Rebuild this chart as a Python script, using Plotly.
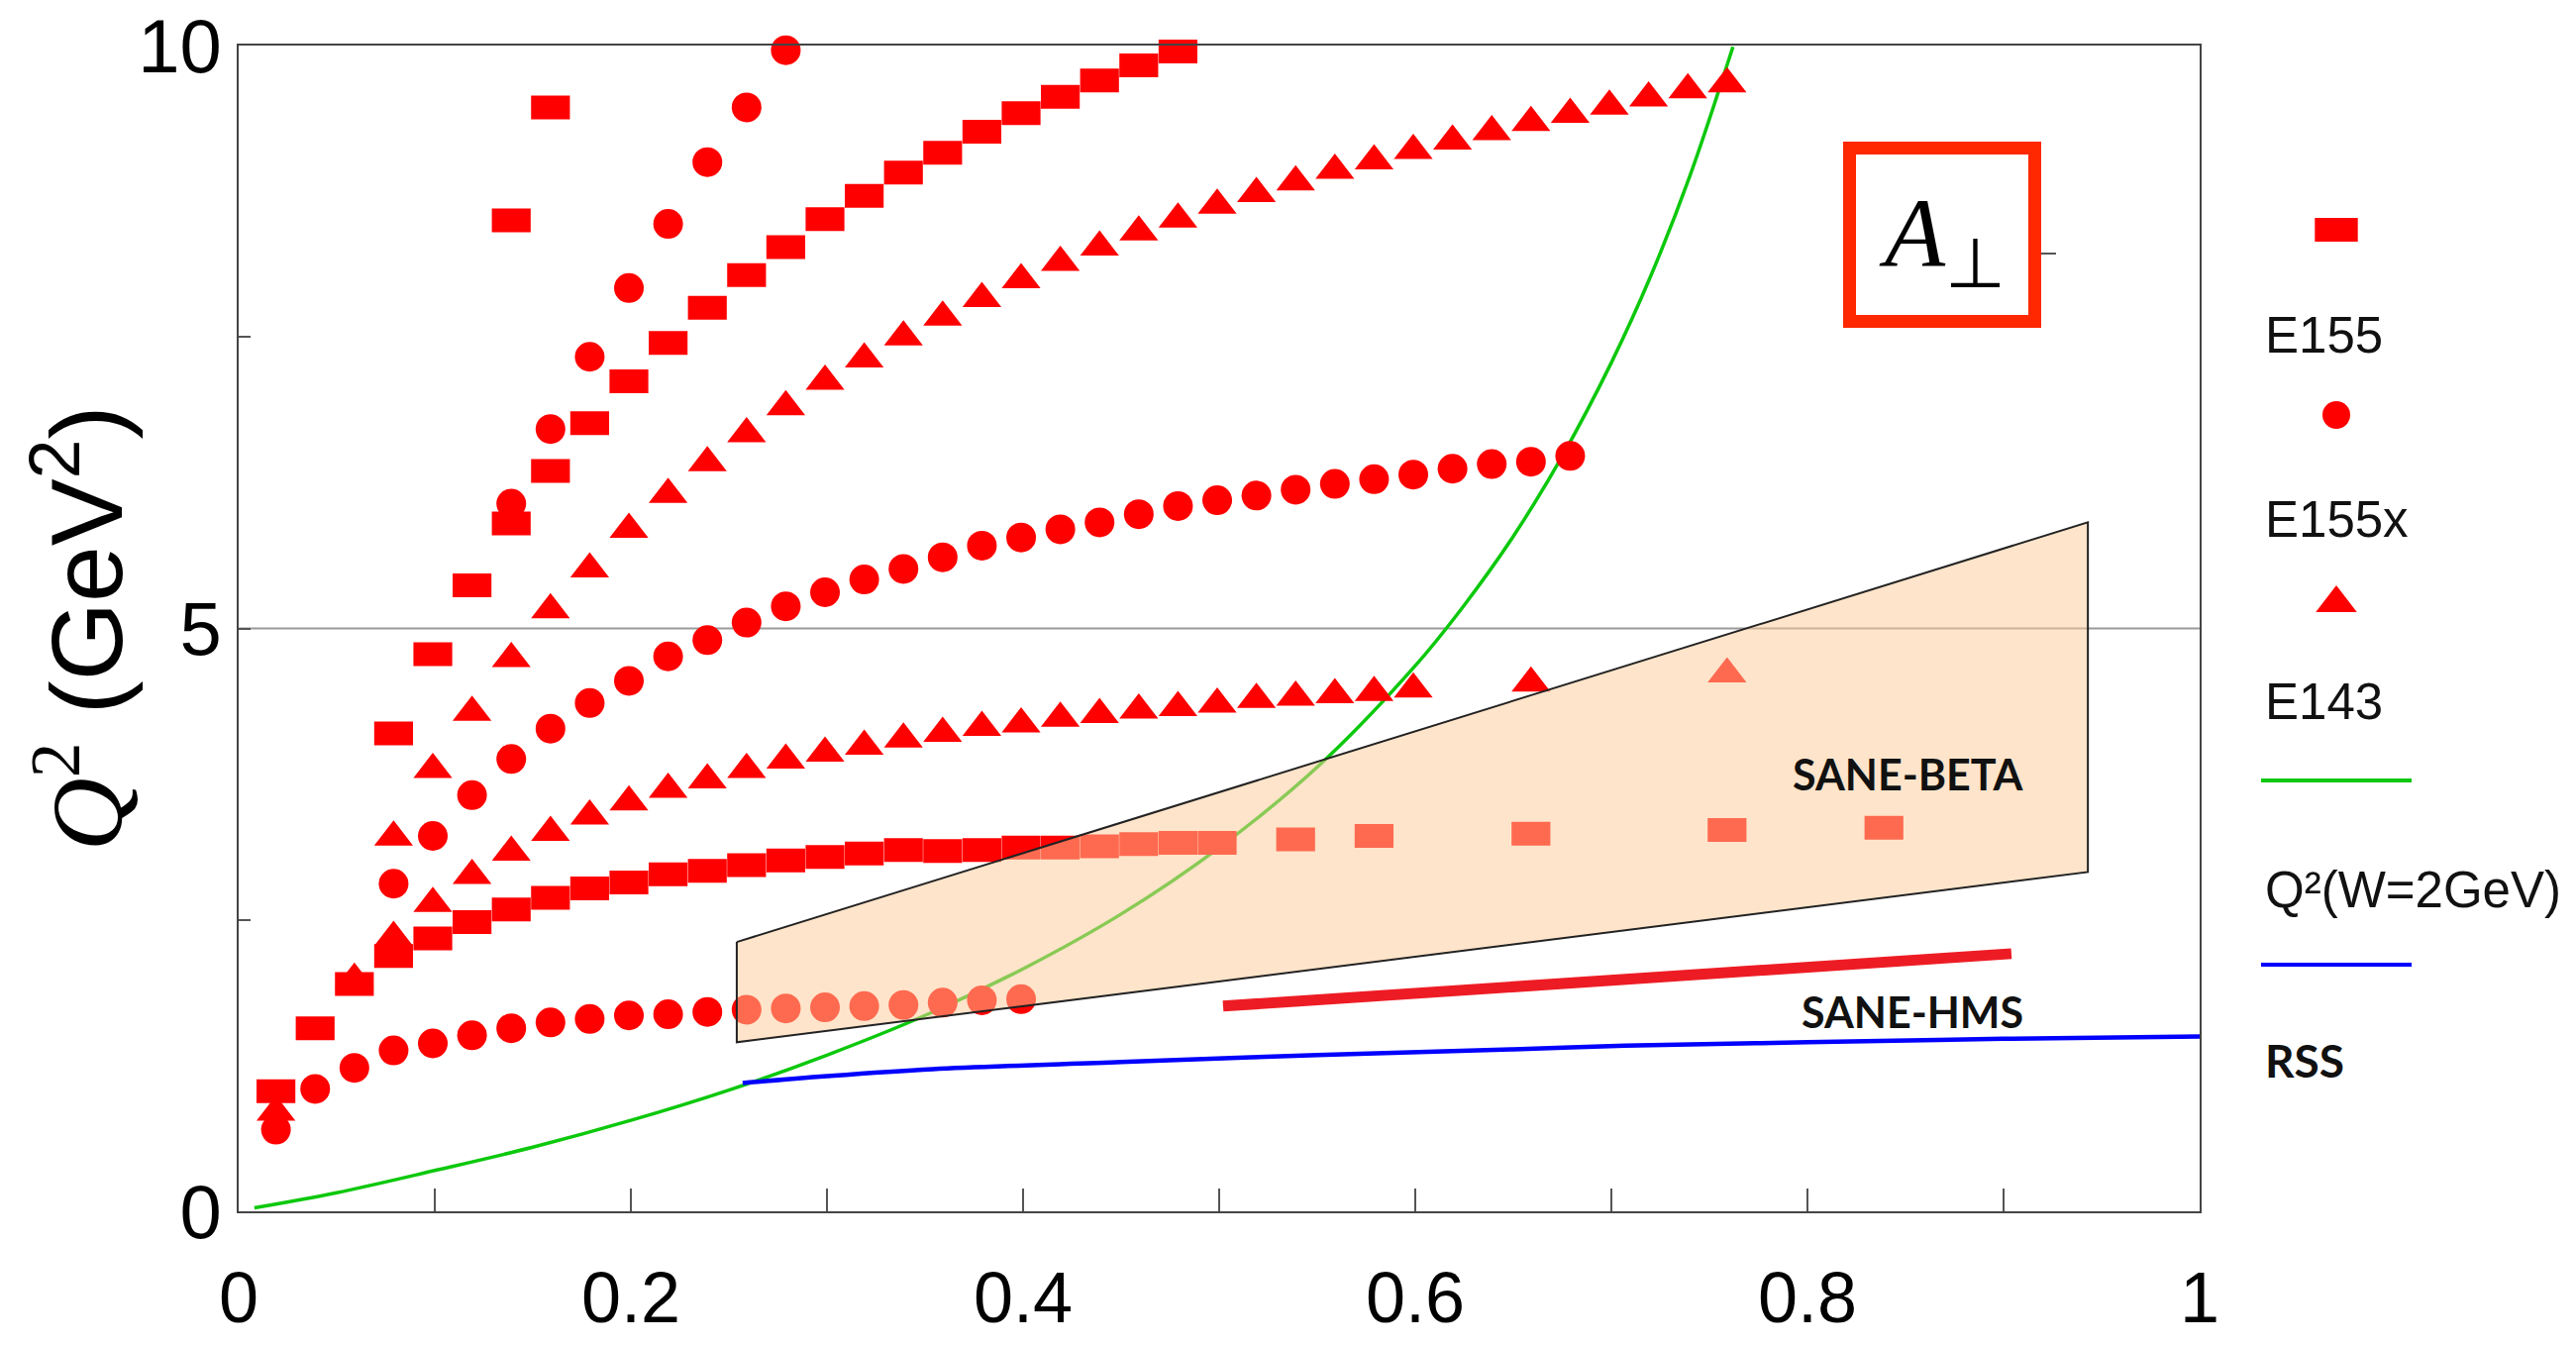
import plotly.graph_objects as go

# ---------------- data ----------------
# E155 (squares)
e155_a_x = [0.079, 0.099, 0.119, 0.139, 0.159, 0.179, 0.199, 0.219, 0.239, 0.259, 0.279,
            0.299, 0.319, 0.339, 0.359, 0.379, 0.399, 0.419, 0.439, 0.459, 0.479]
e155_a_q2 = [4.10, 4.78, 5.37, 5.90, 6.35, 6.76, 7.12, 7.45, 7.75, 8.03, 8.27,
             8.51, 8.71, 8.91, 9.08, 9.26, 9.42, 9.56, 9.70, 9.83, 9.95]
e155_b_x = [0.139, 0.159]
e155_b_q2 = [8.50, 9.47]
e155_c_x = [0.019, 0.039, 0.059, 0.079, 0.099, 0.119, 0.139, 0.159, 0.179, 0.199,
            0.219, 0.239, 0.259, 0.279, 0.299, 0.319, 0.339, 0.359, 0.379, 0.399,
            0.419, 0.439, 0.459, 0.479, 0.499, 0.539, 0.579, 0.659, 0.759, 0.839]
e155_c_q2 = [1.03, 1.57, 1.95, 2.19, 2.34, 2.48, 2.59, 2.69, 2.77, 2.82,
             2.89, 2.92, 2.97, 3.01, 3.04, 3.07, 3.10, 3.09, 3.10, 3.12,
             3.12, 3.13, 3.15, 3.16, 3.16, 3.19, 3.22, 3.24, 3.27, 3.29]

# E155x (circles)
e155x_a_x = [0.139, 0.159, 0.179, 0.199, 0.219, 0.239, 0.259, 0.279]
e155x_a_q2 = [6.07, 6.71, 7.33, 7.92, 8.47, 9.00, 9.47, 9.96]
e155x_b_x = [0.079, 0.099, 0.119, 0.139, 0.159, 0.179, 0.199, 0.219, 0.239, 0.259,
             0.279, 0.299, 0.319, 0.339, 0.359, 0.379, 0.399, 0.419, 0.439, 0.459,
             0.479, 0.499, 0.519, 0.539, 0.559, 0.579, 0.599, 0.619, 0.639, 0.659, 0.679]
e155x_b_q2 = [2.81, 3.22, 3.57, 3.88, 4.14, 4.36, 4.55, 4.76, 4.90, 5.05,
              5.19, 5.31, 5.42, 5.51, 5.61, 5.71, 5.78, 5.85, 5.91, 5.98,
              6.05, 6.10, 6.14, 6.19, 6.24, 6.28, 6.32, 6.37, 6.41, 6.43, 6.48]
e155x_c_x = [0.019, 0.039, 0.059, 0.079, 0.099, 0.119, 0.139, 0.159, 0.179, 0.199,
             0.219, 0.239, 0.259, 0.279, 0.299, 0.319, 0.339, 0.359, 0.379, 0.399]
e155x_c_q2 = [0.70, 1.05, 1.23, 1.38, 1.44, 1.51, 1.57, 1.62, 1.65, 1.68,
              1.69, 1.71, 1.73, 1.74, 1.75, 1.76, 1.77, 1.79, 1.81, 1.82]

# E143 (triangles)
e143_a_x = [0.079, 0.099, 0.119, 0.139, 0.159, 0.179, 0.199, 0.219, 0.239, 0.259,
            0.279, 0.299, 0.319, 0.339, 0.359, 0.379, 0.399, 0.419, 0.439, 0.459,
            0.479, 0.499, 0.519, 0.539, 0.559, 0.579, 0.599, 0.619, 0.639, 0.659,
            0.679, 0.699, 0.719, 0.739, 0.759]
e143_a_q2 = [3.21, 3.79, 4.28, 4.74, 5.16, 5.51, 5.85, 6.15, 6.42, 6.67,
             6.90, 7.12, 7.31, 7.50, 7.67, 7.83, 7.99, 8.14, 8.27, 8.40,
             8.51, 8.63, 8.73, 8.83, 8.93, 9.01, 9.10, 9.18, 9.26, 9.34,
             9.41, 9.48, 9.55, 9.62, 9.67]
e143_b_x = [0.019, 0.059, 0.079, 0.099, 0.119, 0.139, 0.159, 0.179, 0.199, 0.219,
            0.239, 0.259, 0.279, 0.299, 0.319, 0.339, 0.359, 0.379, 0.399, 0.419,
            0.439, 0.459, 0.479, 0.499, 0.519, 0.539, 0.559, 0.579, 0.599, 0.659, 0.759]
e143_b_q2 = [0.85, 1.99, 2.35, 2.64, 2.88, 3.08, 3.25, 3.39, 3.51, 3.62,
             3.70, 3.79, 3.87, 3.93, 3.99, 4.05, 4.10, 4.15, 4.18, 4.23,
             4.26, 4.30, 4.32, 4.35, 4.39, 4.41, 4.43, 4.45, 4.48, 4.53, 4.61]

# Q^2 at W = 2 GeV (green curve)
w2_x = [0.008, 0.05, 0.10, 0.15, 0.20, 0.25, 0.30, 0.35, 0.40, 0.45, 0.50,
        0.55, 0.60, 0.625, 0.65, 0.675, 0.70, 0.72, 0.74, 0.762]
w2_q2 = [0.03, 0.16, 0.35, 0.55, 0.78, 1.04, 1.34, 1.68, 2.08, 2.55, 3.12,
         3.81, 4.68, 5.20, 5.79, 6.48, 7.28, 8.02, 8.88, 9.99]

# RSS (blue line)
rss_x = [0.257, 0.30, 0.354, 0.45, 0.55, 0.65, 0.707, 0.80, 0.90, 1.0]
rss_q2 = [1.10, 1.16, 1.22, 1.28, 1.34, 1.39, 1.42, 1.45, 1.48, 1.50]

# SANE-HMS (thick red line)
hms_x = [0.502, 0.904]
hms_q2 = [1.76, 2.21]

# SANE-BETA (shaded region)
beta_x = [0.254, 0.943, 0.943, 0.254, 0.254]
beta_q2 = [2.31, 5.91, 2.91, 1.45, 2.31]

# axis ticks
x_tickvals = [0, 0.2, 0.4, 0.6, 0.8, 1.0]
x_ticktext = ["0", "0.2", "0.4", "0.6", "0.8", "1"]
y_tickvals = [0, 5, 10]
y_ticktext = ["0", "5", "10"]

legend_labels = ["E155", "E155x", "E143", "Q²(W=2GeV)", "RSS"]

# ---------------- styles ----------------
W, H = 2601, 1359
PL, PR, PT, PB = 241, 2221, 46, 1223   # plot area in pixels
RED = "#FF0000"

SQ = dict(symbol="line-ew", size=28, color=RED, line=dict(color=RED, width=24))
CI = dict(symbol="circle", size=30, color=RED, line=dict(width=0))
TR = dict(symbol="triangle-up", size=34, color=RED, line=dict(width=0))

fig = go.Figure()

# green W=2 GeV curve and blue RSS line (under the shaded region)
fig.add_trace(go.Scatter(x=w2_x, y=w2_q2, mode="lines", line=dict(color="#0CC80C", width=3.5, shape="spline"),
                         hoverinfo="skip"))
fig.add_trace(go.Scatter(x=rss_x, y=rss_q2, mode="lines", line=dict(color="#0000FF", width=4.5, shape="spline"),
                         hoverinfo="skip"))

for xs, ys in [(e155x_a_x, e155x_a_q2), (e155x_b_x, e155x_b_q2), (e155x_c_x, e155x_c_q2)]:
    fig.add_trace(go.Scatter(x=xs, y=ys, mode="markers", marker=CI, cliponaxis=False))
for xs, ys in [(e143_a_x, e143_a_q2), (e143_b_x, e143_b_q2)]:
    fig.add_trace(go.Scatter(x=xs, y=ys, mode="markers", marker=TR, cliponaxis=False))
for xs, ys in [(e155_a_x, e155_a_q2), (e155_b_x, e155_b_q2), (e155_c_x, e155_c_q2)]:
    fig.add_trace(go.Scatter(x=xs, y=ys, mode="markers", marker=SQ, cliponaxis=False))

# SANE-BETA shaded region (semi-transparent, drawn over the data)
fig.add_trace(go.Scatter(x=beta_x, y=beta_q2, mode="lines", fill="toself",
                         fillcolor="rgba(253,203,154,0.52)", line=dict(color="#222222", width=2)))
# SANE-HMS
fig.add_trace(go.Scatter(x=hms_x, y=hms_q2, mode="lines", line=dict(color="#ED1C24", width=11)))

# ---------------- manual legend (pixel overlay axes x2/y2) ----------------
leg_x = 2359
fig.add_trace(go.Scatter(x=[leg_x], y=[232], xaxis="x2", yaxis="y2", mode="markers",
                         marker=dict(symbol="line-ew", size=31, color=RED, line=dict(color=RED, width=24))))
fig.add_trace(go.Scatter(x=[leg_x], y=[419], xaxis="x2", yaxis="y2", mode="markers",
                         marker=dict(symbol="circle", size=28, color=RED)))
fig.add_trace(go.Scatter(x=[leg_x], y=[609], xaxis="x2", yaxis="y2", mode="markers",
                         marker=dict(symbol="triangle-up", size=36, color=RED)))
fig.add_trace(go.Scatter(x=[2283, 2435], y=[788, 788], xaxis="x2", yaxis="y2", mode="lines",
                         line=dict(color="#0CC80C", width=4)))
fig.add_trace(go.Scatter(x=[2283, 2435], y=[974, 974], xaxis="x2", yaxis="y2", mode="lines",
                         line=dict(color="#0000FF", width=4)))

legend_y = [338, 524, 708, 898, 1070]
annotations = []
for lab, yy in zip(legend_labels, legend_y):
    if lab == "RSS":
        annotations.append(dict(x=2285, y=yy, xref="x2", yref="y2", text="<b>" + lab + "</b>",
                                showarrow=False, xanchor="left", yanchor="middle",
                                font=dict(family="Lato", size=46, color="#111111")))
    else:
        annotations.append(dict(x=2285, y=yy, xref="x2", yref="y2", text=lab,
                                showarrow=False, xanchor="left", yanchor="middle",
                                font=dict(family="Liberation Sans", size=51, color="#111111")))

# y-axis title
annotations.append(dict(x=80, y=635, xref="x2", yref="y2", textangle=-90, showarrow=False,
                        xanchor="center", yanchor="middle",
                        text="<span style='font-family:Liberation Serif'><i>Q</i><sup>2</sup></span> (GeV<sup>2</sup>)",
                        font=dict(family="Liberation Sans", size=102, color="black")))
# A_perp label
annotations.append(dict(x=1961, y=242, xref="x2", yref="y2", showarrow=False,
                        xanchor="center", yanchor="middle",
                        text="<i>A</i><sub>⊥</sub>",
                        font=dict(family="Liberation Serif", size=100, color="black")))
# SANE labels
annotations.append(dict(x=1927, y=781, xref="x2", yref="y2", showarrow=False,
                        text="<b>SANE-BETA</b>", font=dict(family="Lato", size=43, color="#111111")))
annotations.append(dict(x=1931, y=1021, xref="x2", yref="y2", showarrow=False,
                        text="<b>SANE-HMS</b>", font=dict(family="Lato", size=43, color="#111111")))

shapes = [
    # horizontal gridline at Q^2 = 5
    dict(type="line", xref="x", yref="y", x0=0, x1=1, y0=5, y1=5,
         line=dict(color="#9A9A9A", width=2), layer="below"),
    # red box around A_perp
    dict(type="rect", xref="x2", yref="y2", x0=1867.5, x1=2054.5, y0=149.5, y1=324.5,
         line=dict(color="#FF2800", width=13), layer="above"),
    dict(type="line", xref="x2", yref="y2", x0=2061, x1=2076, y0=256, y1=256,
         line=dict(color="#555555", width=2), layer="above"),
]

fig.update_layout(
    width=W, height=H,
    margin=dict(l=0, r=0, t=0, b=0, autoexpand=False),
    paper_bgcolor="white", plot_bgcolor="rgba(0,0,0,0)",
    showlegend=False,
    annotations=annotations,
    shapes=shapes,
    xaxis=dict(domain=[PL / W, PR / W], range=[0, 1], tickvals=x_tickvals, ticktext=x_ticktext,
               ticks="inside", ticklen=23, tickwidth=2, tickcolor="#555555",
               minor=dict(ticks="inside", tick0=0, dtick=0.1, ticklen=23, tickwidth=2, tickcolor="#555555",
                          showgrid=False),
               showline=True, linecolor="#444444", linewidth=2, mirror=True, automargin=False,
               showgrid=False, zeroline=False, ticklabelstandoff=24,
               tickfont=dict(family="Liberation Sans", size=72, color="black")),
    yaxis=dict(domain=[1 - PB / H, 1 - PT / H], range=[0, 10], tickvals=y_tickvals, ticktext=y_ticktext,
               ticks="inside", ticklen=12, tickwidth=2, tickcolor="#555555",
               minor=dict(ticks="inside", tick0=0, dtick=2.5, ticklen=12, tickwidth=2, tickcolor="#555555",
                          showgrid=False),
               showline=True, linecolor="#444444", linewidth=2, mirror=True, automargin=False,
               showgrid=False, zeroline=False, ticklabelstandoff=0,
               tickfont=dict(family="Liberation Sans", size=76, color="black")),
    xaxis2=dict(domain=[0, 1], range=[0, W], visible=False, anchor="y2", fixedrange=True, automargin=False),
    yaxis2=dict(domain=[0, 1], range=[H, 0], visible=False, anchor="x2", fixedrange=True, automargin=False),
)

fig.write_html("out.html", include_plotlyjs=True, full_html=True, config={"responsive": False})
